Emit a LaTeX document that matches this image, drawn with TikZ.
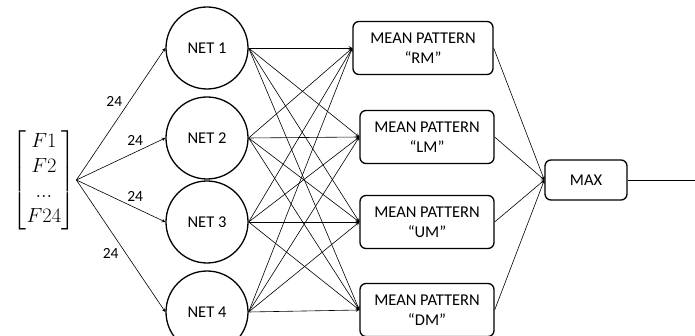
\RequirePackage{fix-cm}
\documentclass[tikz,border=0pt]{standalone}
\usepackage{amsmath}
\usepackage{fontspec}
\newfontfamily\carlito{Carlito}
\usetikzlibrary{arrows}

\begin{document}
\begin{tikzpicture}[
            x = 1pt, y = -1pt, % pixel grid of the picture
            -> , >= stealth, % arrow head style
            line width = 0.6pt % line style
        ]

        \tikzstyle{net}=[
            circle,
            draw = black,
            line width = 1.3pt,
            minimum size = 82pt,
            font = \carlito\fontsize{16.5}{20}\selectfont
        ]
        \tikzstyle{pattern}=[
            rectangle,
            rounded corners = 6pt,
            draw = black,
            line width = 1.3pt,
            minimum width = 134pt,
            minimum height = 53pt,
            align = center,
            font = \carlito\fontsize{16.5}{20}\selectfont
        ]
        \tikzstyle{width}=[
            font = \carlito\fontsize{15.5}{18}\selectfont,
            inner sep = 2pt
        ]

        \useasboundingbox (0,0) rectangle (695,336);

        \node[inner sep=1pt, font=\fontsize{20.5}{25}\selectfont] (vec) at (44,180)
            {$\begin{bmatrix} F1\\ F2\\ ...\\ F24 \end{bmatrix}$};

        \node[net] (net1) at (207,48) {NET 1};
        \node[net] (net2) at (207,138) {NET 2};
        \node[net] (net3) at (207,222) {NET 3};
        \node[net] (net4) at (207,312) {NET 4};

        \node[pattern, minimum width=140pt] (rm) at (423,48) {MEAN PATTERN\\“RM”};
        \node[pattern] (lm) at (427,137) {MEAN PATTERN\\“LM”};
        \node[pattern] (um) at (427,222) {MEAN PATTERN\\“UM”};
        \node[pattern] (dm) at (427,310) {MEAN PATTERN\\“DM”};

        \node[pattern, minimum width=82pt, minimum height=40pt] (max) at (586,180) {MAX};
        \coordinate (out) at (695,180);

        \draw (vec.east) -- node[width, pos=0.54, above left] {24} (net1.west);
        \draw (vec.east) -- node[width, pos=0.66, above=4pt] {24} (net2.west);
        \draw (vec.east) -- node[width, pos=0.66, above=4pt] {24} (net3.west);
        \draw (vec.east) -- node[width, pos=0.5, below left] {24} (net4.west);

        \path (net1.east) edge (rm.west) edge (lm.west) edge (um.west) edge (dm.west);
        \path (net2.east) edge (rm.west) edge (lm.west) edge (um.west) edge (dm.west);
        \path (net3.east) edge (rm.west) edge (lm.west) edge (um.west) edge (dm.west);
        \path (net4.east) edge (rm.west) edge (lm.west) edge (um.west) edge (dm.west);

        \path (rm.east) edge (max.west);
        \path (lm.east) edge (max.west);
        \path (um.east) edge (max.west);
        \path (dm.east) edge (max.west);

        \draw[-] (max.east) -- (out);
    \end{tikzpicture}
\end{document}
